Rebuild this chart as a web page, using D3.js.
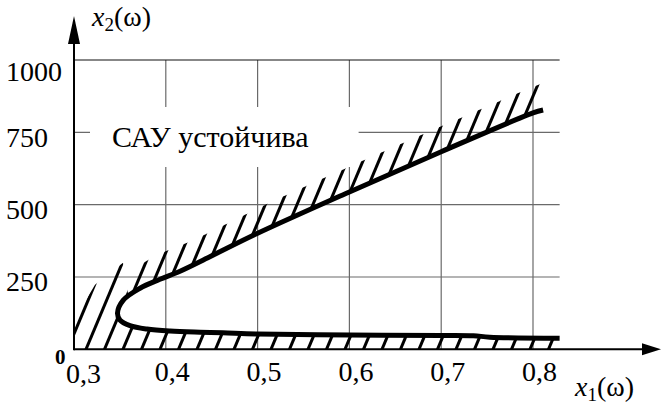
<!DOCTYPE html>
<html>
<head>
<meta charset="utf-8">
<script src="https://cdn.jsdelivr.net/npm/d3@7"></script>
<style>
  html, body { margin: 0; padding: 0; background: #fff; }
  svg { display: block; }
  text { font-family: "Liberation Serif", "Times New Roman", serif; fill: #000; }
</style>
</head>
<body>
<svg id="chart" width="661" height="404"></svg>
<script>
// Axis ticks
const x1Ticks = [0.3, 0.4, 0.5, 0.6, 0.7, 0.8];
const x1TickLabels = ["0,3", "0,4", "0,5", "0,6", "0,7", "0,8"];
const x2Ticks = [250, 500, 750, 1000];
const x2TickLabels = ["250", "500", "750", "1000"];
const x1GridEnd = 0.829;

// Stability boundary: upper branch, from the nose outwards
const upperX1 = [0.3474, 0.3537, 0.3719, 0.3937, 0.4155, 0.448, 0.5, 0.6, 0.7, 0.8, 0.811];
const upperX2 = [125, 170, 211, 242, 270, 320, 401, 544, 683, 817, 827];
// lower branch, from the nose outwards
const lowerX1 = [0.3474, 0.3501, 0.361, 0.3795, 0.4046, 0.4373, 0.462, 0.5, 0.6, 0.7, 0.735, 0.753, 0.829];
const lowerX2 = [125, 101, 82, 70, 63, 59, 57, 53, 49, 48, 47, 42, 38];
// outer edge of the shaded (unstable) area to the left of the nose
const edgeX1 = [0.3534, 0.3229, 0.3];
const edgeX2 = [299, 223, 100];

const regionLabel = "САУ устойчива";

const svg = d3.select("#chart");
const x = d3.scaleLinear().domain([0.3, 0.8]).range([74, 533]);
const y = d3.scaleLinear().domain([0, 1000]).range([349.3, 60]);
const y0 = y(0), xL = x(0.3), xR = x(x1GridEnd);

svg.append("rect").attr("width", 661).attr("height", 404).attr("fill", "#fff");

// Grid
const grid = svg.append("g");
grid.selectAll("line.v").data(x1Ticks.slice(1)).join("line")
  .attr("x1", d => x(d)).attr("x2", d => x(d))
  .attr("y1", y(1000)).attr("y2", y0)
  .attr("stroke", "#6a6a6a").attr("stroke-width", 1.2);
grid.selectAll("line.h").data(x2Ticks).join("line")
  .attr("x1", xL).attr("x2", xR)
  .attr("y1", d => y(d)).attr("y2", d => y(d))
  .attr("stroke", d => d === 1000 ? "#111" : "#6a6a6a")
  .attr("stroke-width", 1.2);

// Region label on a white plate
const labelG = svg.append("g");
const plate = labelG.append("rect").attr("fill", "#fff");
const lbl = labelG.append("text")
  .attr("x", 112).attr("y", 147)
  .attr("font-size", 30)
  .text(regionLabel);
const bb = lbl.node().getBBox();
plate.attr("x", bb.x - 22).attr("y", bb.y - 13)
  .attr("width", bb.width + 72).attr("height", bb.height + 27);

// Boundary curve
const upper = upperX1.map((v, i) => [v, upperX2[i]]);
const lower = lowerX1.map((v, i) => [v, lowerX2[i]]);
const boundary = upper.slice().reverse().concat(lower.slice(1));
const line = d3.line().x(d => x(d[0])).y(d => y(d[1])).curve(d3.curveCatmullRom.alpha(0.5));
const curveD = line(boundary);

// Sample the curve to build the hatched regions
const probe = svg.append("path").attr("d", curveD).attr("fill", "none").attr("stroke", "none");
const len = probe.node().getTotalLength();
const N = 700;
const pts = d3.range(N + 1).map(i => {
  const p = probe.node().getPointAtLength(len * i / N);
  return [p.x, p.y];
});
probe.remove();
const noseIdx = d3.minIndex(pts, p => p[0]);
const startX = 128;
let pIdx = 0;
for (let i = 0; i < noseIdx; i++) if (pts[i][0] >= startX) pIdx = i;

const slant = 0.42;          // horizontal run per unit rise of the hatch strokes
const hatchLen = 31;
const shift = [slant * hatchLen, -hatchLen];

const upperEdge = pts.slice(0, pIdx + 1);
const upperBand = upperEdge.concat(upperEdge.slice().reverse().map(p => [p[0] + shift[0], p[1] + shift[1]]));

const edgePts = edgeX1.map((v, i) => [x(v), y(edgeX2[i])]);
const lowerRegion = [[xL, y0], [xR, y0]]
  .concat(pts.slice(pIdx).reverse())
  .concat(edgePts);

const defs = svg.append("defs");
const poly = d3.line();
defs.append("clipPath").attr("id", "clipUpper").append("path").attr("d", poly(upperBand) + "Z");
defs.append("clipPath").attr("id", "clipLower").append("path").attr("d", poly(lowerRegion) + "Z");

function hatch(clipId, start, step, count) {
  const g = svg.append("g").attr("clip-path", `url(#${clipId})`);
  const xs = d3.range(count).map(k => start + k * step);
  const yb = y0 + 10, yt = 30;
  g.selectAll("line").data(xs).join("line")
    .attr("x1", d => d - slant * 10).attr("y1", yb)
    .attr("x2", d => d + slant * (y0 - yt)).attr("y2", yt)
    .attr("stroke", "#000").attr("stroke-width", 3);
}
hatch("clipUpper", 109.3, 15.87, 21);
hatch("clipLower", 67.5, 18.5, 28);

// Curve on top of the hatching
svg.append("path").attr("d", curveD)
  .attr("fill", "none").attr("stroke", "#000")
  .attr("stroke-width", 5).attr("stroke-linejoin", "round").attr("stroke-linecap", "butt");

// Axes lines with arrowheads
svg.append("line").attr("x1", xL).attr("x2", 648).attr("y1", y0).attr("y2", y0)
  .attr("stroke", "#000").attr("stroke-width", 2);
svg.append("path").attr("d", `M642,${y0 - 6}L661,${y0}L642,${y0 + 6}Z`).attr("fill", "#000");
svg.append("line").attr("x1", xL).attr("x2", xL).attr("y1", y0 + 1).attr("y2", 30)
  .attr("stroke", "#000").attr("stroke-width", 2);
svg.append("path").attr("d", `M${xL - 6},44L${xL},16L${xL + 6},44Z`).attr("fill", "#000");

// Tick labels through d3 axes
const xAxis = d3.axisBottom(x).tickValues(x1Ticks).tickFormat((d, i) => x1TickLabels[i]).tickSize(0);
const gx = svg.append("g").attr("transform", `translate(0,${y0})`).call(xAxis);
gx.select(".domain").remove();
gx.selectAll("text")
  .attr("font-family", "Liberation Serif, serif").attr("font-size", 28)
  .attr("y", d => d === 0.3 ? 34 : 32).attr("dy", null).attr("dx", d => d === 0.3 ? 9 : 6);

const yAxis = d3.axisLeft(y).tickValues(x2Ticks).tickFormat((d, i) => x2TickLabels[i]).tickSize(0);
const gy = svg.append("g").attr("transform", `translate(${xL},0)`).call(yAxis);
gy.select(".domain").remove();
gy.selectAll("text")
  .attr("font-family", "Liberation Serif, serif").attr("font-size", 28)
  .attr("text-anchor", "start").attr("x", 6 - xL)
  .attr("dy", null).attr("y", d => d === 1000 ? 20 : 14);

// Origin mark
svg.append("text").attr("x", 55).attr("y", 364)
  .attr("font-size", 21).attr("font-weight", "bold").text("0");

// Axis titles
function axisTitle(px, py, sub) {
  const t = svg.append("text").attr("x", px).attr("y", py).attr("font-size", 28);
  t.append("tspan").attr("font-style", "italic").text("x");
  t.append("tspan").attr("font-size", 19).attr("dy", 5).text(sub);
  t.append("tspan").attr("dy", -5).text("(ω)");
}
axisTitle(92, 26, "2");
axisTitle(575, 396, "1");
</script>
</body>
</html>
